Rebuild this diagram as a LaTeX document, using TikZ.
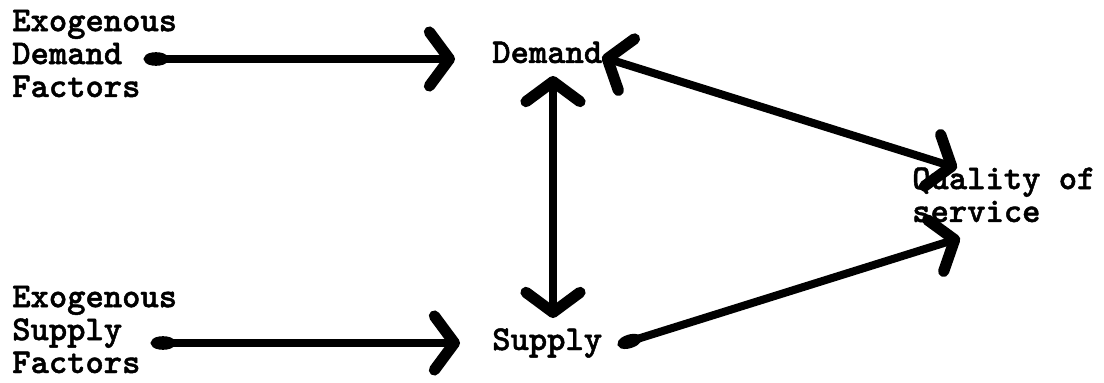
\documentclass[tikz,border=0pt]{standalone}
\usepackage{fontspec}
\newfontfamily\typefont[FakeBold=1.3]{lmmonolt10-bold.otf}
\usetikzlibrary{arrows.meta}

\begin{document}
\begin{tikzpicture}[
    x=0.025cm, y=0.025cm,
    label/.style={inner sep=0pt, anchor=base west, align=left, font=\typefont\fontsize{24.8}{23.4}\selectfont},
    barb/.tip={Straight Barb[length=0.5cm, width=1.35cm, line width=0.28cm, round]},
    twoway/.style={line width=0.2cm, line cap=round, barb-barb},
    dotrel/.style={line width=0.2cm, line cap=round, {Ellipse[length=0.6cm, width=0.34cm]}-barb}
  ]

    \useasboundingbox (0,0) rectangle (1104,382);

    % text rows: last baselines
    \node[label] (exoDemand) at (12,285) {Exogenous\\Demand\\Factors};
    \node[label] (exoSupply) at (12,9) {Exogenous\\Supply\\Factors};
    \node[label] (demand) at (492,319) {Demand};
    \node[label] (supply) at (492,32) {Supply};
    \node[label] (quality) at (912,160) {Quality of\\service};

    \draw[dotrel] ([shift={(132,38)}]exoDemand.base west) -- ([shift={(-37,4)}]demand.base west);
    \draw[dotrel] ([shift={(139,30)}]exoSupply.base west) -- ([shift={(-32,7)}]supply.base west);
    \draw[twoway] ([shift={(61,-13)}]demand.base west) -- ([shift={(61,32)}]supply.base west);
    \draw[twoway] ([shift={(110,6)}]demand.base west) -- ([shift={(45,54)}]quality.base west);
    \draw[dotrel] ([shift={(126,5)}]supply.base west) -- ([shift={(48,-16)}]quality.base west);
  \end{tikzpicture}
\end{document}
